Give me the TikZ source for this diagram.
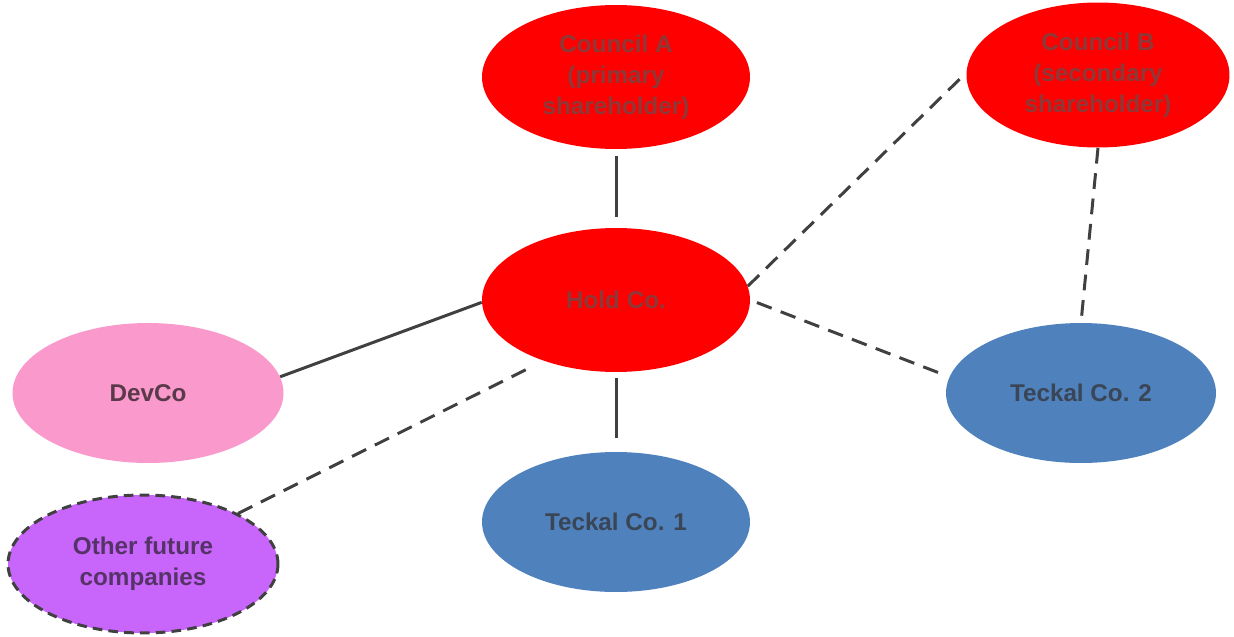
\documentclass[tikz,border=0pt]{standalone}
\usepackage{fontspec}
\setmainfont{Liberation Sans}
\usetikzlibrary{shapes.geometric}
\definecolor{nodered}{HTML}{FF0000}
\definecolor{nodepink}{HTML}{FA99CB}
\definecolor{nodeblue}{HTML}{4F81BD}
\definecolor{nodepurple}{HTML}{C865FB}
\definecolor{linegray}{HTML}{404040}
\definecolor{txtred}{HTML}{8E3838}
\definecolor{txtpink}{HTML}{5A3A4A}
\definecolor{txtblue}{HTML}{3A4556}
\definecolor{txtpurple}{HTML}{553366}
\begin{document}
\begin{tikzpicture}[x=0.02cm,y=-0.02cm,
  oval/.style={ellipse, inner sep=0pt, minimum width=5.36cm, minimum height=2.84cm,
    align=center, font=\fontsize{13.8}{17.6}\selectfont\bfseries},
  redoval/.style={oval, fill=nodered, text=txtred},
  conn/.style={draw=linegray, line width=1.7pt},
  dconn/.style={conn, dash pattern=on 9pt off 5.5pt}
]
\useasboundingbox (0,0) rectangle (1234,636);
\node[redoval, minimum height=2.88cm] (ca) at (616,77) {Council A\\(primary\\shareholder)};
\node[redoval, minimum width=5.26cm, minimum height=2.9cm] (cb) at (1098,75) {Council B\\(secondary\\shareholder)};
\node[redoval, minimum height=2.88cm] (hold) at (616,300) {Hold Co.};
\node[oval, fill=nodepink, text=txtpink, minimum width=5.42cm, minimum height=2.8cm] (dev) at (148,393) {DevCo};
\node[oval, fill=nodeblue, text=txtblue, minimum width=5.4cm, minimum height=2.8cm] (t2) at (1081,393) {Teckal Co. 2};
\node[oval, fill=nodeblue, text=txtblue, minimum width=5.36cm, minimum height=2.8cm] (t1) at (616,522) {Teckal Co. 1};
\node[oval, fill=nodepurple, text=txtpurple, minimum width=5.4cm, minimum height=2.76cm,
  draw=linegray, line width=1.7pt, dash pattern=on 5.5pt off 3.5pt] (other) at (143,564) {Other future\\companies};

\draw[conn, shorten <=4pt, shorten >=6pt] (ca.south) -- (hold.north);
\draw[conn, shorten <=3pt, shorten >=8pt] (hold.south) -- (t1.north);
\draw[conn] (hold.181) -- (dev.7);
\draw[dconn] (hold.6) -- (cb.179);
\draw[dconn, shorten <=4pt, shorten >=2pt] (hold.east) -- (t2.173);
\draw[dconn, shorten >=1pt] (cb.south) -- (t2.north);
\draw[dconn, shorten >=6pt] (other.28) -- (hold.220);
\end{tikzpicture}
\end{document}
